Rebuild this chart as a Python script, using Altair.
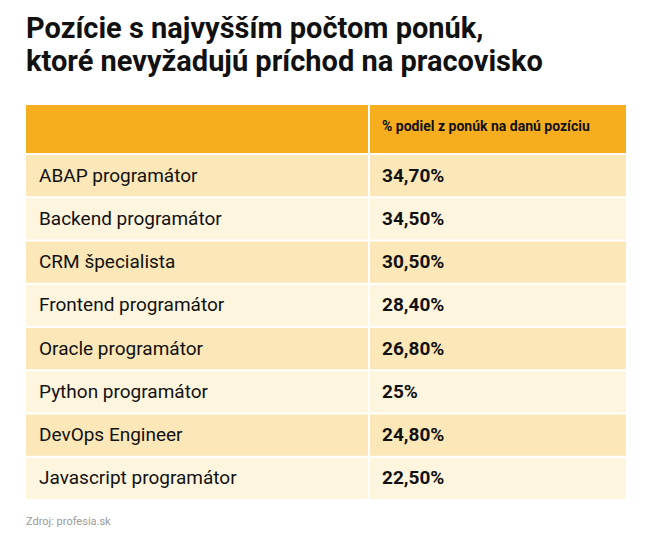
import altair as alt
import pandas as pd

title_lines = ["Pozície s najvyšším počtom ponúk,", "ktoré nevyžadujú príchod na pracovisko"]
header_label = "% podiel z ponúk na danú pozíciu"
positions = [
    "ABAP programátor",
    "Backend programátor",
    "CRM špecialista",
    "Frontend programátor",
    "Oracle programátor",
    "Python programátor",
    "DevOps Engineer",
    "Javascript programátor",
]
values = [34.7, 34.5, 30.5, 28.4, 26.8, 25.0, 24.8, 22.5]
value_labels = ["34,70%", "34,50%", "30,50%", "28,40%", "26,80%", "25%", "24,80%", "22,50%"]
source = "Zdroj: profesia.sk"

W = 600
SPLIT = 342
GAP = 2
HEAD_H = 48
BODY_H = 344
FONT = "Roboto"

body_df = pd.DataFrame({
    "position": positions,
    "value": values,
    "label": value_labels,
    "stripe": ["a" if i % 2 == 0 else "b" for i in range(len(positions))],
})
head_df = pd.DataFrame({"h": [header_label]})
src_df = pd.DataFrame({"s": [source]})

header_base = alt.Chart(head_df)
header = alt.layer(
    header_base.mark_rect(color="#f7ae1e").encode(
        x=alt.value(0), x2=alt.value(SPLIT), y=alt.value(0), y2=alt.value(HEAD_H)
    ),
    header_base.mark_rect(color="#f7ae1e").encode(
        x=alt.value(SPLIT + GAP), x2=alt.value(W), y=alt.value(0), y2=alt.value(HEAD_H)
    ),
    header_base.mark_text(
        align="left", baseline="middle", font=FONT, fontWeight="bold",
        fontSize=14, color="#111111"
    ).encode(
        x=alt.value(SPLIT + GAP + 12), y=alt.value(HEAD_H / 2 - 2), text="h:N"
    ),
).properties(width=W, height=HEAD_H)

yenc = alt.Y(
    "position:N", sort=positions, axis=None,
    scale=alt.Scale(paddingInner=GAP / 43, paddingOuter=0),
)
cenc = alt.Color(
    "stripe:N",
    scale=alt.Scale(domain=["a", "b"], range=["#fbe7b7", "#fef5de"]),
    legend=None,
)
base = alt.Chart(body_df)
body = alt.layer(
    base.mark_rect().encode(x=alt.value(0), x2=alt.value(SPLIT), y=yenc, color=cenc),
    base.mark_rect().encode(x=alt.value(SPLIT + GAP), x2=alt.value(W), y=yenc, color=cenc),
    base.mark_text(
        align="left", baseline="middle", font=FONT, fontSize=19, color="#111111"
    ).encode(x=alt.value(13), y=yenc, text="position:N"),
    base.mark_text(
        align="left", baseline="middle", font=FONT, fontSize=19,
        fontWeight="bold", color="#111111"
    ).encode(x=alt.value(SPLIT + GAP + 12), y=yenc, text="label:N"),
    alt.Chart(src_df).mark_text(
        align="left", baseline="middle", font=FONT, fontSize=11, color="#9a9a9a"
    ).encode(x=alt.value(0), y=alt.value(BODY_H + 23), text="s:N"),
).properties(width=W, height=BODY_H)

chart = alt.vconcat(header, body, spacing=GAP).properties(
    title=alt.TitleParams(
        title_lines, anchor="start", font=FONT, fontSize=29, fontWeight="bold",
        lineHeight=33, color="#111111", offset=28,
    ),
    padding={"left": 18, "top": 7, "right": 5, "bottom": 0},
    background="white",
).configure_view(stroke=None).configure_concat(spacing=GAP)

chart.save("out.html", embed_options={"renderer": "svg", "actions": False})
